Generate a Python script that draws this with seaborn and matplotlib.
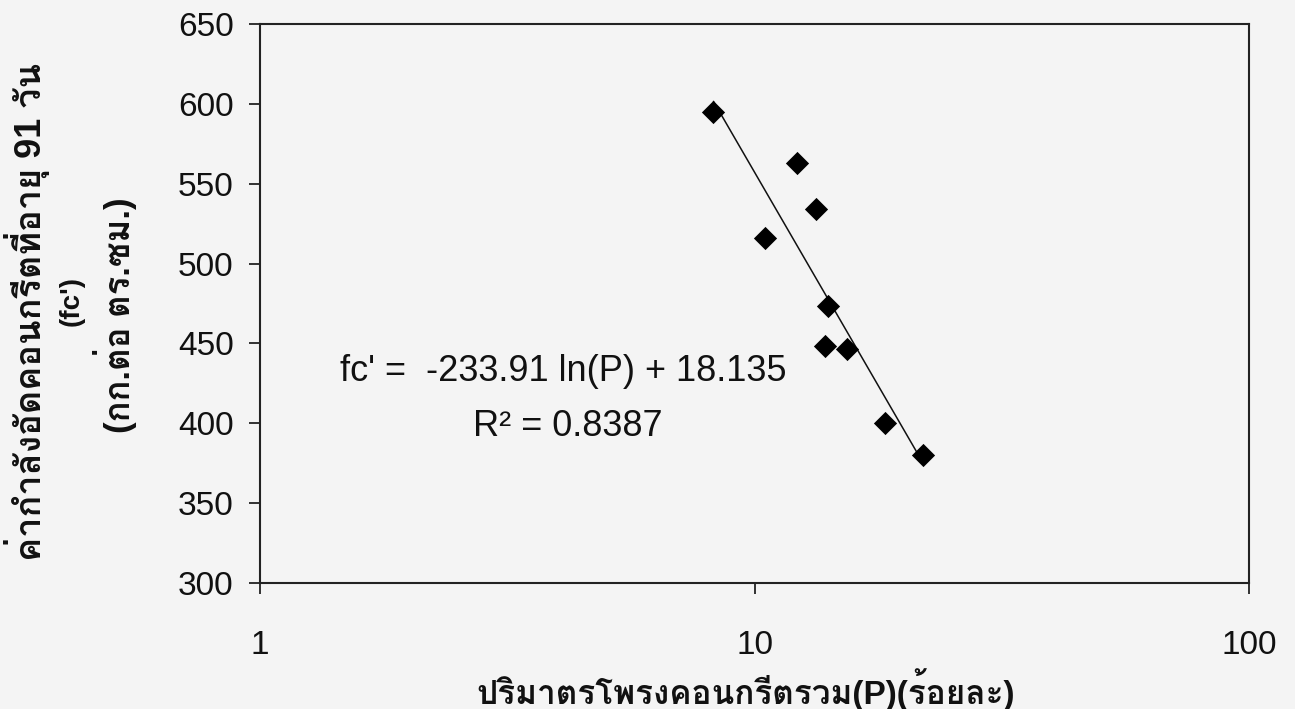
import numpy as np
import pandas as pd
import matplotlib
matplotlib.use("Agg")
import matplotlib.pyplot as plt
from matplotlib import font_manager as fm
from matplotlib.ft2font import FT2Font
from matplotlib.ticker import FixedLocator, NullLocator, FixedFormatter
import seaborn as sns

# Total void content of the concrete (percent) and 91-day compressive strength (ksc)
void_pct = [8.26, 10.50, 12.21, 13.32, 13.89, 14.10, 15.37, 18.36, 21.95]
strength = [595.0, 515.8, 562.8, 534.0, 448.6, 473.4, 446.3, 400.0, 380.1]

x_ticks = [1, 10, 100]
x_tick_labels = ["1", "10", "100"]
y_ticks = [300, 350, 400, 450, 500, 550, 600, 650]

eq_line = "fc' =  -233.91 ln(P) + 18.135"
r2_line = "R\u00b2 = 0.8387"
x_title = "ปริมาตรโพรงคอนกรีตรวม(P)(ร้อยละ)"
y_title_1 = "ค่ากำลังอัดคอนกรีตที่อายุ 91 วัน"
y_title_2 = "(fc')"
y_title_3 = "(กก.ต่อ ตร.ซม.)"


def find_thai_family():
    """Pick an installed Thai-capable family, preferring looped faces with a bold weight."""
    found = {}
    for f in fm.fontManager.ttflist:
        try:
            cmap = FT2Font(f.fname).get_charmap()
        except Exception:
            continue
        if 0x0E01 in cmap and 0x0E23 in cmap:
            found.setdefault(f.name, set()).add(f.weight)
    if not found:
        return None

    def has_bold(name):
        return any(w in ("bold", "heavy", "black", "semibold", "demibold") or
                   (isinstance(w, int) and w >= 600) for w in found[name])

    prefs = ["Tahoma", "Noto Sans Thai Looped", "Loma", "Garuda", "Waree",
             "Umpush", "Tlwg Typo", "Noto Sans Thai", "Noto Sans Thai UI",
             "Sarabun", "Laksaman", "Norasi", "Kinnari"]
    for p in prefs:
        if p in found and has_bold(p):
            return p
    bold_names = [n for n in found if has_bold(n)]
    if bold_names:
        return bold_names[0]
    for p in prefs:
        if p in found:
            return p
    return next(iter(found))


sns.set_theme(style="white")
thai = find_thai_family()
families = ["Liberation Sans", "DejaVu Sans"]
if thai:
    families = ["Liberation Sans", thai, "DejaVu Sans"]
plt.rcParams["font.family"] = families

bg = "#f4f4f4"
ink = "#111111"
fig = plt.figure(figsize=(12.95, 7.09), dpi=100, facecolor=bg)
ax = fig.add_axes([0.2008, 0.1777, 0.7637, 0.7885])
ax.set_facecolor(bg)

df = pd.DataFrame({"P": void_pct, "fc": strength})

# Logarithmic trend line fitted to the measurements
slope, intercept = np.polyfit(np.log(df["P"]), df["fc"], 1)
p_line = np.geomspace(df["P"].min(), df["P"].max(), 100)
trend = pd.DataFrame({"P": p_line, "fc": slope * np.log(p_line) + intercept})
sns.lineplot(data=trend, x="P", y="fc", ax=ax, color=ink, linewidth=1.1)

sns.scatterplot(data=df, x="P", y="fc", ax=ax, marker="D", s=140,
                color="black", linewidth=0, zorder=3)

ax.set_xscale("log")
ax.set_xlim(1, 100)
ax.set_ylim(300, 650)
ax.xaxis.set_major_locator(FixedLocator(x_ticks))
ax.xaxis.set_major_formatter(FixedFormatter(x_tick_labels))
ax.xaxis.set_minor_locator(NullLocator())
ax.yaxis.set_major_locator(FixedLocator(y_ticks))

for s in ax.spines.values():
    s.set_color("#222222")
    s.set_linewidth(1.5)

ax.tick_params(axis="both", which="major", direction="out", length=8,
               width=1.3, color="#222222", labelcolor=ink, labelsize=24)
ax.tick_params(axis="x", pad=26)
ax.tick_params(axis="y", pad=11)
ax.tick_params(left=True, bottom=True)

ax.set_xlabel("")
ax.set_ylabel("")

# Trend-line equation and coefficient of determination
ax.text(4.10, 432.5, eq_line, ha="center", va="center", fontsize=26, color=ink)
ax.text(4.20, 398.0, r2_line, ha="center", va="center", fontsize=26, color=ink)

fig.text(0.5755, 0.028, x_title, ha="center", va="center",
         fontsize=24, fontweight="bold", color=ink)

fig.text(0.021, 0.56, y_title_1, rotation=90, ha="center", va="center",
         fontsize=26, fontweight="bold", color=ink)
fig.text(0.0555, 0.575, y_title_2, rotation=90, ha="center", va="center",
         fontsize=20, fontweight="bold", color=ink)
fig.text(0.089, 0.555, y_title_3, rotation=90, ha="center", va="center",
         fontsize=25, fontweight="bold", color=ink)

fig.savefig("out.png", dpi=100, facecolor=bg)
